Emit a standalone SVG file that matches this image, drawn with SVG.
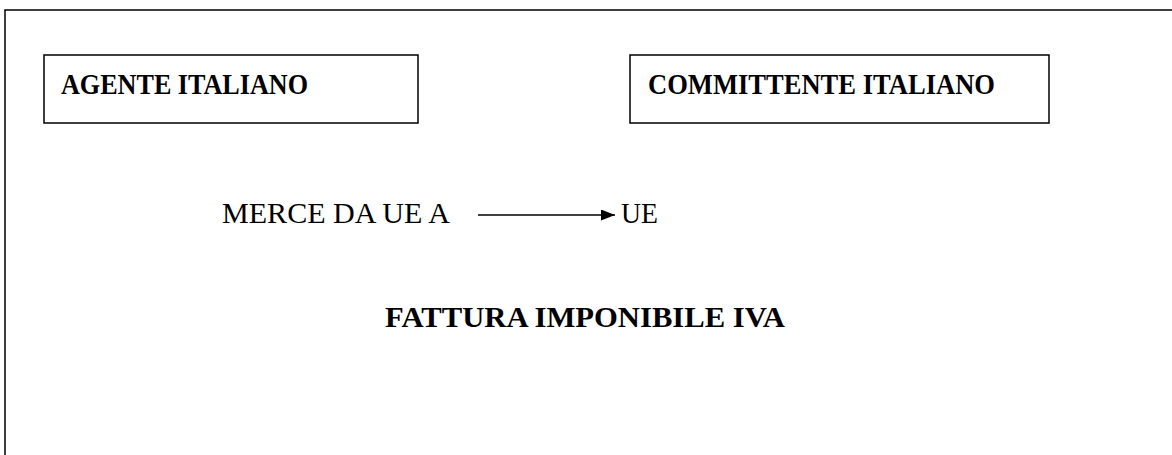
<svg xmlns="http://www.w3.org/2000/svg" width="1172" height="455" viewBox="0 0 1172 455">
  <style>
    .frame { fill: none; stroke: #000; stroke-width: 1.5; }
    .box { fill: #fff; stroke: #000; stroke-width: 1.5; }
    .bold { font-family: "Liberation Serif", "Times New Roman", serif; font-weight: bold; font-size: 30px; fill: #000; }
    .plain { font-family: "Liberation Serif", "Times New Roman", serif; font-size: 30px; fill: #000; }
    .conn { stroke: #000; stroke-width: 1.5; fill: none; }
  </style>
  <defs>
    <marker id="arrow" viewBox="0 0 14 11" refX="14" refY="5.5" markerWidth="14" markerHeight="11" markerUnits="userSpaceOnUse" orient="auto">
      <path d="M0,0 L14,5.5 L0,11 Z" fill="#000"/>
    </marker>
  </defs>
  <rect width="1172" height="455" fill="#fff"/>

  <!-- page frame: left and top edges -->
  <path class="frame" d="M5,455 V10 H1172"/>

  <g id="agente">
    <rect class="box" x="44" y="55" width="374" height="68"/>
    <text class="bold" x="61" y="94" textLength="247" lengthAdjust="spacingAndGlyphs">AGENTE ITALIANO</text>
  </g>

  <g id="committente">
    <rect class="box" x="630" y="55" width="419" height="68"/>
    <text class="bold" x="648" y="94" textLength="347" lengthAdjust="spacingAndGlyphs">COMMITTENTE ITALIANO</text>
  </g>

  <g id="merce">
    <text class="plain" x="222" y="223" textLength="228" lengthAdjust="spacingAndGlyphs">MERCE DA UE A</text>
  </g>

  <g id="ue">
    <text class="plain" x="621" y="223" textLength="37" lengthAdjust="spacingAndGlyphs">UE</text>
  </g>

  <g id="fattura">
    <text class="bold" x="385" y="327" textLength="400" lengthAdjust="spacingAndGlyphs">FATTURA IMPONIBILE IVA</text>
  </g>

  <g id="connectors">
    <line class="conn" x1="478" y1="215" x2="615" y2="215" marker-end="url(#arrow)"/>
  </g>
</svg>
